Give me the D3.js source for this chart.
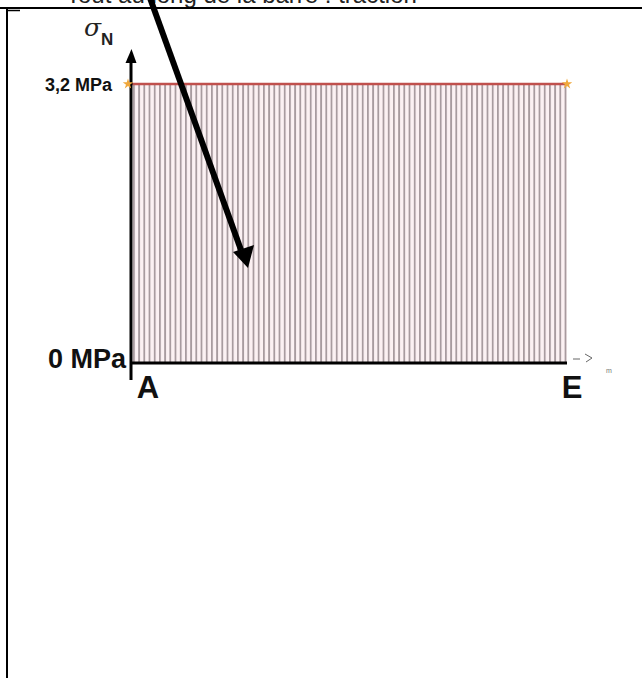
<!DOCTYPE html>
<html>
<head>
<meta charset="utf-8">
<script src="https://cdn.jsdelivr.net/npm/d3@7"></script>
<style>
  body { margin: 0; background: white; }
  svg { display: block; }
</style>
</head>
<body>
<div class="sigma-figure"></div>
<script>
// data
let positions = [0, 1];          // A .. E (abscissa, normalised)
let pointNames = ["A", "E"];
let stressValues = [3.2, 3.2];   // sigma_N in MPa, constant along the bar
let yTicks = [0, 3.2];
let yTickLabels = ["0 MPa", "3,2 MPa"];

let width = 642, height = 678;

let svg = d3.select("body").select(".sigma-figure")
    .append("svg")
    .attr("width", width)
    .attr("height", height);

let x = d3.scaleLinear()
    .domain([0, 1])
    .range([131, 567]);

let y = d3.scaleLinear()
    .domain([0, 3.2])
    .range([363, 84]);

// page frame (table cell borders), title cut by the page top
svg.append("text")
    .attr("x", 66)
    .attr("y", 3)
    .style("font-family", "Arial, 'Liberation Sans', sans-serif")
    .style("font-size", "24px")
    .style("fill", "#222")
    .text("Tout au long de la barre : traction");

svg.append("line")
    .attr("x1", 0).attr("x2", width)
    .attr("y1", 8).attr("y2", 8)
    .style("stroke", "black").style("stroke-width", 2);

svg.append("line")
    .attr("x1", 7).attr("x2", 7)
    .attr("y1", 8).attr("y2", height)
    .style("stroke", "black").style("stroke-width", 2);

svg.append("line")
    .attr("x1", 7).attr("x2", 20)
    .attr("y1", 10.5).attr("y2", 10.5)
    .style("stroke", "black").style("stroke-width", 1.5);

// hatch pattern for the area under the stress line
let defs = svg.append("defs");
let pat = defs.append("pattern")
    .attr("id", "hatch")
    .attr("patternUnits", "userSpaceOnUse")
    .attr("x", x(0) + 2)
    .attr("width", 5.2)
    .attr("height", 10);
pat.append("rect")
    .attr("width", 5.2).attr("height", 10)
    .style("fill", "#fcf1f3");
pat.append("rect")
    .attr("width", 1.8).attr("height", 10)
    .style("fill", "#a89b9f");

let data = positions.map(function(p, i) { return {pos: p, val: stressValues[i]}; });

let area = d3.area()
    .x(function(d) { return x(d.pos); })
    .y0(y(0))
    .y1(function(d) { return y(d.val); });

svg.append("path")
    .datum(data)
    .attr("d", area)
    .style("fill", "url(#hatch)");

let line = d3.line()
    .x(function(d) { return x(d.pos); })
    .y(function(d) { return y(d.val); });

svg.append("path")
    .datum(data)
    .attr("d", line)
    .style("fill", "none")
    .style("stroke", "#c0504d")
    .style("stroke-width", 2.5);

// axes
svg.append("line")
    .attr("x1", x(0)).attr("x2", x(0))
    .attr("y1", 380).attr("y2", 60)
    .style("stroke", "black").style("stroke-width", 3);

svg.append("path")
    .attr("d", "M" + (x(0) - 5.5) + ",63 L" + (x(0) + 0.5) + ",49 L" + (x(0) + 5.5) + ",63 Z")
    .style("fill", "black");

svg.append("line")
    .attr("x1", x(0) - 1).attr("x2", x(1))
    .attr("y1", y(0)).attr("y2", y(0))
    .style("stroke", "black").style("stroke-width", 3);

// star markers at both ends
svg.selectAll(".star")
    .data(data)
    .enter()
    .append("path")
    .attr("class", "star")
    .attr("transform", function(d, i) { return "translate(" + (x(d.pos) + (i === 0 ? -3 : 0)) + "," + y(d.val) + ")"; })
    .attr("d", d3.symbol().type(d3.symbolStar).size(34))
    .style("fill", "#f0a83c");

// small dashed arrow and unit after the x axis
svg.append("path")
    .attr("d", "M573,359 L580,359 M585,354 L592,358 L586,362")
    .style("fill", "none")
    .style("stroke", "#666")
    .style("stroke-width", 1);

svg.append("text")
    .attr("x", 606).attr("y", 373)
    .style("font-family", "Arial, 'Liberation Sans', sans-serif")
    .style("font-size", "7px")
    .style("fill", "#777")
    .text("m");

// y tick labels
svg.selectAll(".ylab")
    .data(yTicks)
    .enter()
    .append("text")
    .attr("class", "ylab")
    .attr("x", function(d) { return d === 0 ? 126 : 112; })
    .attr("y", function(d) { return y(d) + (d === 0 ? 5 : 7); })
    .attr("text-anchor", "end")
    .style("font-family", "Arial, 'Liberation Sans', sans-serif")
    .style("font-weight", "bold")
    .style("font-size", function(d) { return d === 0 ? "27px" : "18px"; })
    .style("fill", "#111")
    .text(function(d, i) { return yTickLabels[i]; });

// point names under the x axis
svg.selectAll(".xlab")
    .data(positions)
    .enter()
    .append("text")
    .attr("class", "xlab")
    .attr("x", function(d) { return x(d) + (d === 0 ? 17 : 5); })
    .attr("y", 398)
    .attr("text-anchor", "middle")
    .style("font-family", "Arial, 'Liberation Sans', sans-serif")
    .style("font-weight", "bold")
    .style("font-size", "31px")
    .style("fill", "#111")
    .text(function(d, i) { return pointNames[i]; });

// axis title sigma_N
let title = svg.append("text")
    .attr("x", 84).attr("y", 36);
title.append("tspan")
    .style("font-family", "'DejaVu Serif', 'Liberation Serif', serif")
    .style("font-style", "italic")
    .style("font-size", "25px")
    .style("fill", "#222")
    .text("σ");
title.append("tspan")
    .attr("dy", 9)
    .style("font-family", "Arial, 'Liberation Sans', sans-serif")
    .style("font-weight", "bold")
    .style("font-size", "17px")
    .style("fill", "#222")
    .text("N");

// big pointer arrow
svg.append("line")
    .attr("x1", 150).attr("y1", -2)
    .attr("x2", 241).attr("y2", 250)
    .style("stroke", "black").style("stroke-width", 6);

svg.append("path")
    .attr("d", "M233,252 L248,268 L254,245 Z")
    .style("fill", "black");
</script>
</body>
</html>
